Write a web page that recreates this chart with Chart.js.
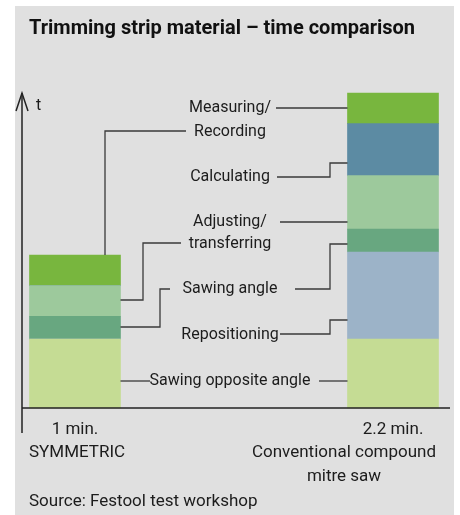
<!DOCTYPE html>
<html>
<head>
<meta charset="utf-8">
<script src="https://cdn.jsdelivr.net/npm/chart.js@4.4.1/dist/chart.umd.min.js"></script>
<style>
  html, body { margin: 0; padding: 0; background: #fff; }
  #chart { display: block; }
</style>
</head>
<body>
<canvas id="chart" width="460" height="515"></canvas>
<script>
"use strict";

// minutes per step
const timeLabels = ['1 min.', '2.2 min.'];
const machineNames = [['SYMMETRIC'], ['Conventional compound', 'mitre saw']];
const stepLines = [
  ['Sawing opposite angle'],
  ['Repositioning'],
  ['Sawing angle'],
  ['Adjusting/', 'transferring'],
  ['Calculating'],
  ['Measuring/', 'Recording'],
];
const symmetricMinutes = [0.45, 0, 0.15, 0.20, 0, 0.20];
const conventionalMinutes = [0.45, 0.57, 0.15, 0.35, 0.34, 0.20];
const stepColors = ['#c5dc94', '#9cb3c8', '#68a780', '#9dc99c', '#5c8ba3', '#78b63e'];

const FONT = 'Roboto, "Liberation Sans", sans-serif';
const TEXT = '#1c1c1c';
const LINE = '#3a3a3a';

const datasets = stepLines.map((lines, i) => ({
  label: lines.join(''),
  data: [symmetricMinutes[i], conventionalMinutes[i]],
  backgroundColor: stepColors[i],
  borderWidth: 0,
  barThickness: 91,
  clip: false,
}));

const barBox = (chart, datasetIndex, barIndex) => {
  const el = chart.getDatasetMeta(datasetIndex).data[barIndex];
  return {
    left: el.x - el.width / 2,
    right: el.x + el.width / 2,
    center: el.x,
    top: el.y,
    bottom: el.base,
  };
};

const polyline = (ctx, points) => {
  ctx.beginPath();
  points.forEach(([x, y], i) => (i ? ctx.lineTo(x, y) : ctx.moveTo(x, y)));
  ctx.stroke();
};

const decorations = {
  id: 'decorations',
  beforeDraw(chart) {
    const { ctx } = chart;
    ctx.save();
    ctx.fillStyle = '#ffffff';
    ctx.fillRect(0, 0, chart.width, chart.height);
    ctx.fillStyle = '#e0e0e0';
    ctx.fillRect(15, 6, 439, 509);
    ctx.restore();
  },
  afterDatasetsDraw(chart) {
    const { ctx, scales } = chart;
    const zeroY = scales.y.getPixelForValue(0);
    const axisX = 22;

    ctx.save();
    ctx.lineCap = 'butt';

    // axes
    ctx.strokeStyle = '#222';
    ctx.lineWidth = 1.5;
    polyline(ctx, [[axisX, 93], [axisX, zeroY + 25]]);
    polyline(ctx, [[axisX, zeroY], [450, zeroY]]);
    polyline(ctx, [[axisX - 6, 111], [axisX, 93], [axisX + 6, 111]]);

    ctx.fillStyle = TEXT;
    ctx.font = `16px ${FONT}`;
    ctx.textBaseline = 'middle';
    ctx.textAlign = 'left';
    ctx.fillText('t', 36, 106);

    // title
    ctx.font = `bold 20px ${FONT}`;
    ctx.fillStyle = '#111';
    ctx.fillText('Trimming strip material \u2013 time comparison', 29, 29);

    // step labels, centred between the two bars
    const labelX = 230;
    const labelY = [[381], [335], [289], [222, 244], [177], [108, 132]];
    ctx.font = `16px ${FONT}`;
    ctx.fillStyle = TEXT;
    ctx.textAlign = 'center';
    stepLines.forEach((lines, i) => {
      lines.forEach((line, j) => ctx.fillText(line, labelX, labelY[i][j]));
    });

    // leader lines
    const symTop = barBox(chart, 5, 0);
    const symR = symTop.right;
    const conL = barBox(chart, 5, 1).left;
    ctx.strokeStyle = LINE;
    ctx.lineWidth = 1.3;
    const leaders = [
      [[symTop.center + 30, symTop.top], [symTop.center + 30, 131], [186, 131]],
      [[276, 108], [conL, 108]],
      [[277, 177], [330, 177], [330, 163], [conL, 163]],
      [[symR, 300], [143, 300], [143, 243], [181, 243]],
      [[280, 222], [conL, 222]],
      [[symR, 327], [160, 327], [160, 289], [170, 289]],
      [[295, 289], [330, 289], [330, 244], [conL, 244]],
      [[280, 334], [330, 334], [330, 320], [conL, 320]],
      [[symR, 381], [150, 381]],
      [[319, 381], [conL, 381]],
    ];
    leaders.forEach((pts) => polyline(ctx, pts));

    // category labels under the axis
    ctx.fillStyle = TEXT;
    ctx.font = `17px ${FONT}`;
    timeLabels.forEach((label, i) => {
      ctx.textAlign = 'center';
      ctx.fillText(label, scales.x.getPixelForValue(i), zeroY + 22);
    });
    ctx.textAlign = 'left';
    ctx.fillText(machineNames[0][0], 29, zeroY + 45);
    ctx.textAlign = 'center';
    machineNames[1].forEach((line, j) => ctx.fillText(line, 344, zeroY + 45 + j * 24));

    // source
    ctx.textAlign = 'left';
    ctx.fillText('Source: Festool test workshop', 29, 502);

    ctx.restore();
  },
};

new Chart(document.getElementById('chart'), {
  type: 'bar',
  data: {
    labels: timeLabels,
    datasets,
  },
  options: {
    responsive: false,
    animation: false,
    devicePixelRatio: 1,
    layout: {
      padding: { top: 93, bottom: 107, left: 75, right: 67 },
    },
    scales: {
      x: { stacked: true, offset: false, display: false },
      y: { stacked: true, min: 0, max: 2.06, display: false },
    },
    plugins: {
      legend: { display: false },
      tooltip: { enabled: false },
    },
  },
  plugins: [decorations],
});
</script>
</body>
</html>
